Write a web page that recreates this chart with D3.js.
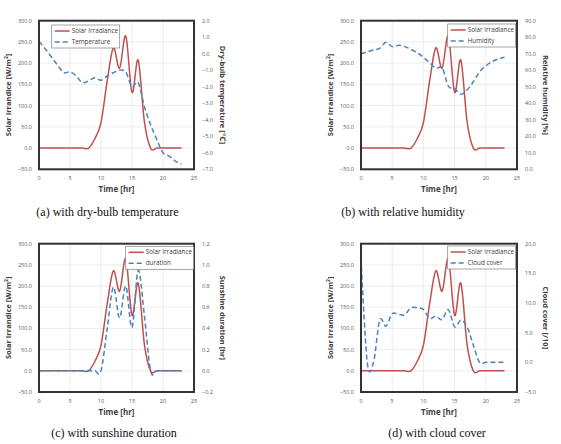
<!DOCTYPE html>
<meta charset="utf-8">
<style>
body { margin: 0; background: #fff; }
svg text { font-family: "Open Sans", "DejaVu Sans", sans-serif; }
.tick-label { font-size: 5.5px; fill: #595959; }
.axis-title { font-size: 7.5px; fill: #404040; font-weight: bold; }
.legend-text { font-size: 6.3px; fill: #404040; }
.caption { font-family: "Liberation Serif", "Times New Roman", serif !important; font-size: 12px; fill: #111; }
</style>
<body>
<script src="https://cdnjs.cloudflare.com/ajax/libs/d3/7.8.5/d3.min.js"></script>
<script>

// hours 0..23
var hours = d3.range(0, 24);

// solar irradiance, same in all four plots
var solar = [0, 0, 0, 0, 0, 0, 0, 0, 0, 22, 60, 158, 236, 188, 264, 131, 207, 62, 0, 0, 0, 0, 0, 0];

// second series for each plot
var temperature = [0.75, 0.3, -0.2, -0.7, -1.15, -1.1, -1.35, -1.75, -1.65, -1.45, -1.6, -1.35, -1.15, -1.0, -1.1, -2.0, -1.75, -3.2, -4.3, -5.2, -6.0, -6.2, -6.5, -6.7];
var humidity = [69.8, 71.2, 72.3, 73.3, 76.9, 74.3, 75.1, 74.3, 72.7, 70.6, 67.8, 64.6, 61.2, 61.5, 50.4, 49.0, 45.4, 48.0, 53.0, 59.0, 62.6, 65.2, 66.8, 67.8];
var duration = [0, 0, 0, 0, 0, 0, 0, 0, 0, 0, 0, 0.4, 0.79, 0.5, 0.8, 0.41, 0.95, 0.52, 0, 0, 0, 0, 0, 0];
var cloud = [17.5, 0, 0, 7.1, 6.1, 8.2, 8.1, 8.0, 9.2, 9.2, 8.9, 7.4, 7.8, 7.2, 8.9, 6.0, 7.1, 6.0, 2.9, 0, 0, 0, 0, 0];

// axis ticks
var xTicks = [0, 5, 10, 15, 20, 25];
var leftTicks = [-50, 0, 50, 100, 150, 200, 250, 300];

var panels = [
  { box: [39, 20.7, 194, 169.3], series: temperature, right: [-7, 2], rightTicks: d3.range(-7, 2.01, 1),
    rightTitle: "Dry-bulb temperature [\u2103]", legendName: "Temperature", legend: [51.7, 25],
    caption: "(a) with dry-bulb temperature", capX: 107.5, capY: 215.5 },
  { box: [361, 20.7, 517, 169.3], series: humidity, right: [0, 90], rightTicks: d3.range(0, 90.1, 10),
    rightTitle: "Relative humidity [%]", legendName: "Humidity", legend: [447.7, 24],
    caption: "(b) with relative humidity", capX: 403, capY: 215.5 },
  { box: [39, 243.7, 194, 392], series: duration, right: [-0.2, 1.2], rightTicks: d3.range(-0.2, 1.21, 0.2),
    rightTitle: "Sunshine duration [hr]", legendName: "duration", legend: [125.7, 246.3],
    caption: "(c) with sunshine duration", capX: 114, capY: 436.5 },
  { box: [361, 243.7, 517, 392], series: cloud, right: [-5, 20], rightTicks: d3.range(-5, 20.1, 5),
    rightTitle: "Cloud cover [/10]", legendName: "Cloud cover", legend: [447.7, 246],
    caption: "(d) with cloud cover", capX: 437, capY: 436.5 }
];

var svg = d3.select("body").append("svg")
    .attr("width", 561)
    .attr("height", 444);

var red = "#c0504d", blue = "#4f81bd";

panels.forEach(function(p) {
  var x0 = p.box[0], y0 = p.box[1], x1 = p.box[2], y1 = p.box[3];
  var x = d3.scaleLinear().domain([0, 25]).range([x0, x1]);
  var yL = d3.scaleLinear().domain([-50, 300]).range([y1, y0]);
  var yR = d3.scaleLinear().domain(p.right).range([y1, y0]);

  var g = svg.append("g");

  // gridlines
  g.selectAll(".hg").data(leftTicks).enter().append("line")
      .attr("x1", x0).attr("x2", x1)
      .attr("y1", function(d) { return yL(d); }).attr("y2", function(d) { return yL(d); })
      .attr("stroke", "#e0e0e0").attr("stroke-width", 0.6);
  g.selectAll(".vg").data(xTicks).enter().append("line")
      .attr("y1", y0).attr("y2", y1)
      .attr("x1", function(d) { return x(d); }).attr("x2", function(d) { return x(d); })
      .attr("stroke", "#e0e0e0").attr("stroke-width", 0.6);

  // tick labels
  g.selectAll(".lt").data(leftTicks).enter().append("text")
      .attr("class", "tick-label")
      .attr("x", x0 - 7).attr("y", function(d) { return yL(d) + 2; })
      .attr("text-anchor", "end")
      .text(function(d) { return d3.format(".1f")(d); });
  g.selectAll(".rt").data(p.rightTicks).enter().append("text")
      .attr("class", "tick-label")
      .attr("x", x1 + 8).attr("y", function(d) { return yR(d) + 2; })
      .text(function(d) { return d3.format(".1f")(Math.abs(d) < 1e-9 ? 0 : d); });
  g.selectAll(".xt").data(xTicks).enter().append("text")
      .attr("class", "tick-label")
      .attr("x", function(d) { return x(d); }).attr("y", y1 + 10.5)
      .attr("text-anchor", "middle")
      .text(function(d) { return d; });

  // axis titles
  g.append("text").attr("class", "axis-title")
      .attr("transform", "translate(" + (x0 - 28) + "," + ((y0 + y1) / 2) + ") rotate(-90)")
      .attr("text-anchor", "middle")
      .html("Solar Irrandice [W/m<tspan dy='-3' font-size='5px'>2</tspan><tspan dy='3'>]</tspan>");
  g.append("text").attr("class", "axis-title")
      .attr("transform", "translate(" + (x1 + 25.5) + "," + ((y0 + y1) / 2) + ") rotate(90)")
      .attr("text-anchor", "middle")
      .text(p.rightTitle);
  g.append("text").attr("class", "axis-title")
      .attr("x", (x0 + x1) / 2).attr("y", y1 + 22.5)
      .attr("text-anchor", "middle")
      .style("font-size", "8px")
      .text("Time  [hr]");

  // lines
  var lineL = d3.line().curve(d3.curveCatmullRom.alpha(0))
      .x(function(d, i) { return x(hours[i]); })
      .y(function(d) { return yL(d); });
  var lineR = d3.line().curve(d3.curveCatmullRom.alpha(0))
      .x(function(d, i) { return x(hours[i]); })
      .y(function(d) { return yR(d); });

  g.append("path").datum(solar)
      .attr("d", lineL).attr("fill", "none")
      .attr("stroke", red).attr("stroke-width", 1.5);
  g.append("path").datum(p.series)
      .attr("d", lineR).attr("fill", "none")
      .attr("stroke", blue).attr("stroke-width", 1.5)
      .attr("stroke-dasharray", "5,3");

  // frame
  g.append("rect")
      .attr("x", x0).attr("y", y0)
      .attr("width", x1 - x0).attr("height", y1 - y0)
      .attr("fill", "none").attr("stroke", "#333").attr("stroke-width", 2);

  // legend
  var lx = p.legend[0], ly = p.legend[1];
  var lg = g.append("g").attr("transform", "translate(" + lx + "," + ly + ")");
  lg.append("rect").attr("width", 68).attr("height", 23)
      .attr("fill", "#fff").attr("stroke", "#7f7f7f").attr("stroke-width", 0.7);
  lg.append("line").attr("x1", 3).attr("x2", 18).attr("y1", 6).attr("y2", 6)
      .attr("stroke", red).attr("stroke-width", 1.5);
  lg.append("line").attr("x1", 3).attr("x2", 18).attr("y1", 17).attr("y2", 17)
      .attr("stroke", blue).attr("stroke-width", 1.5).attr("stroke-dasharray", "5,3");
  lg.append("text").attr("class", "legend-text").attr("x", 20).attr("y", 8.2).text("Solar Irradiance");
  lg.append("text").attr("class", "legend-text").attr("x", 20).attr("y", 19.2).text(p.legendName);

  // caption
  svg.append("text").attr("class", "caption")
      .attr("x", p.capX).attr("y", p.capY)
      .attr("text-anchor", "middle")
      .text(p.caption);
});

</script>
</body>
